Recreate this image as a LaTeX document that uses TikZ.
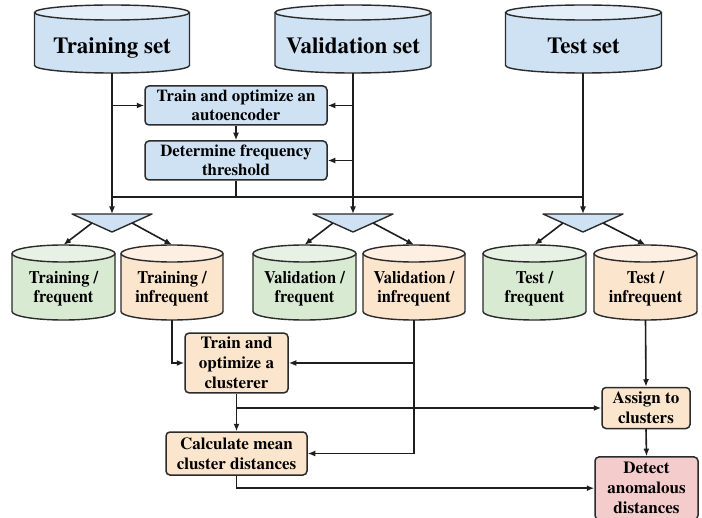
\documentclass[tikz,border=0pt]{standalone}
\usepackage[T1]{fontenc}
\renewcommand{\rmdefault}{ptm}
\usepackage{graphicx}
\usetikzlibrary{arrows.meta,calc}
\definecolor{blueB}{HTML}{CFE2F3}
\definecolor{blueBtop}{HTML}{E3EEF8}
\definecolor{greenB}{HTML}{D9EAD3}
\definecolor{greenBtop}{HTML}{E8F2E4}
\definecolor{orangeB}{HTML}{FCE5CD}
\definecolor{orangeBtop}{HTML}{FDEFE2}
\definecolor{redB}{HTML}{F4CCCC}
\definecolor{edge}{HTML}{2B2B2B}
\definecolor{wire}{HTML}{1E1E1E}
\newcommand\tstr{\rule{0pt}{0.92em}}
\newcommand\bstr{\rule[-0.24em]{0pt}{0.24em}}
\newcommand\cond[1]{\scalebox{0.93}[1]{#1}}
% #1 name, #2 cx, #3 ytop, #4 ybot, #5 half width, #6 ry, #7 colour, #8 text y, #9 text
\newcommand\dbcyl[9]{%
  \fill[#7] ({#2-#5},{#3+#6}) -- ({#2-#5},{#4-#6})
     arc[start angle=180,end angle=360,x radius=#5bp,y radius=#6bp]
     -- ({#2+#5},{#3+#6}) -- cycle;
  \draw[cylline] ({#2-#5},{#3+#6}) -- ({#2-#5},{#4-#6})
     arc[start angle=180,end angle=360,x radius=#5bp,y radius=#6bp]
     -- ({#2+#5},{#3+#6});
  \filldraw[cylline,fill=#7top] (#2,{#3+#6}) ellipse[x radius=#5bp,y radius=#6bp];
  \node[inner sep=0pt,minimum width={2*#5*1bp},minimum height={(#4-#3)*1bp}] (#1) at (#2,{(#3+#4)/2}) {};
  \node[cyltxt] (#1-t) at (#2,#8) {#9};
}
% #1 name, #2 cx
\newcommand\splittri[2]{%
  \coordinate (#1) at (#2,214);
  \coordinate (#1-l) at ({#2-40},214);
  \coordinate (#1-r) at ({#2+40},214);
  \coordinate (#1-b) at (#2,232);
  \coordinate (#1-lm) at ({#2-20},223);
  \coordinate (#1-rm) at ({#2+20},223);
  \filldraw[cylline,fill=blueB] (#1-l) -- (#1-r) -- (#1-b) -- cycle;
}
\tikzset{
  cylline/.style={draw=edge,line width=1.4bp,line join=round},
  cyltxt/.style={inner sep=0pt,align=center,font=\bfseries\fontsize{17.6bp}{19bp}\selectfont},
  toptxt/.style={inner sep=0pt,anchor=base,font=\bfseries\fontsize{23bp}{27bp}\selectfont},
  procbox/.style={draw=edge,line width=1.5bp,rounded corners=4bp,inner sep=0pt,align=center,
    font=\bfseries\fontsize{17bp}{20bp}\selectfont},
  upbox/.style={procbox,fill=blueB,font=\bfseries\fontsize{16.8bp}{19bp}\selectfont},
  wireline/.style={draw=wire,line width=1.6bp},
  arr/.style={wireline,-{Latex[length=7.5bp,width=6bp]}},
}
\begin{document}
\begin{tikzpicture}[x=1bp,y=-1bp]
\useasboundingbox (0,0) rectangle (702,518);
\fill[white] (0,0) rectangle (702,518);

% top data sets
\dbcyl{trs}{112}{5}{73}{77.5}{7.5}{blueB}{39}{}
\dbcyl{vas}{353}{5}{73}{78}{7.5}{blueB}{39}{}
\dbcyl{tes}{583.5}{5}{73}{78}{7.5}{blueB}{39}{}
\node[toptxt] (trs-l) at (112,53.3) {Training set};
\node[toptxt] (vas-l) at (353,53.3) {Validation set};
\node[toptxt] (tes-l) at (583.5,53.3) {Test set};

% autoencoder boxes
\node[upbox,minimum width=182bp,minimum height=39bp] (ae) at (236,105.5) {\tstr Train and optimize an\\autoencoder\bstr};
\node[upbox,minimum width=182bp,minimum height=39bp] (dt) at (236,160.5) {\tstr Determine frequency\\threshold\bstr};

% split triangles
\splittri{trtri}{112}
\splittri{vatri}{353}
\splittri{tetri}{583}

% split data sets
\dbcyl{trfq}{63.5}{245}{320}{51.5}{8.5}{greenB}{286.8}{\cond{\tstr Training /}\\\cond{frequent\bstr}}
\dbcyl{trin}{172}{245}{320}{51}{8.5}{orangeB}{286.8}{\cond{\tstr Training /}\\\cond{infrequent\bstr}}
\dbcyl{vafq}{304.5}{245}{320}{51.5}{8.5}{greenB}{286.8}{\cond{\tstr Validation /}\\\cond{frequent\bstr}}
\dbcyl{vain}{414}{245}{320}{51}{8.5}{orangeB}{286.8}{\cond{\tstr Validation /}\\\cond{infrequent\bstr}}
\dbcyl{tefq}{534.5}{245}{320}{51.5}{8.5}{greenB}{286.8}{\cond{\tstr Test /}\\\cond{frequent\bstr}}
\dbcyl{tein}{645.5}{245}{320}{51.5}{8.5}{orangeB}{286.8}{\cond{\tstr Test /}\\\cond{infrequent\bstr}}

% clustering boxes
\node[procbox,fill=orangeB,minimum width=103bp,minimum height=58bp] (cl) at (236.5,363) {\tstr Train and\\optimize a\\clusterer\bstr};
\node[procbox,fill=orangeB,minimum width=141bp,minimum height=43bp] (cm) at (236.5,453.5) {\tstr Calculate mean\\cluster distances\bstr};
\node[procbox,fill=orangeB,minimum width=88bp,minimum height=41bp] (as) at (646,408) {\tstr Assign to\\clusters\bstr};
\node[procbox,fill=redB,minimum width=103bp,minimum height=62.5bp] (dd) at (646.5,488.2) {\tstr Detect\\anomalous\\distances\bstr};

% top connectors
\coordinate (hl) at (112,197);
\coordinate (hr) at (583,197);
\draw[arr] (trs.south) -- (trtri);
\draw[arr] (vas.south) -- (vatri);
\draw[arr] (tes.south -| tetri) -- (tetri);
\draw[arr] (trs.south |- ae.west) -- (ae.west);
\draw[arr] (vas.south |- ae.east) -- (ae.east);
\draw[arr] (vas.south |- dt.east) -- (dt.east);
\draw[arr] (ae.south) -- (dt.north);
\draw[wireline] (dt.south) -- (dt.south |- hl);
\draw[wireline] (hl) -- (hr);

% triangle outputs
\draw[arr] (trtri-lm) -- (trfq.north);
\draw[arr] (trtri-rm) -- (trin.north);
\draw[arr] (vatri-lm) -- (vafq.north);
\draw[arr] (vatri-rm) -- (vain.north);
\draw[arr] (tetri-lm) -- (tefq.north);
\draw[arr] (tetri-rm) -- (tein.north);

% lower connectors
\draw[arr] (trin.south) |- (cl.west);
\draw[arr] (vain.south) |- (cl.east);
\draw[arr] (vain.south) |- (cm.east);
\draw[arr] (cl.south) -- (cm.north);
\draw[arr] (cl.south |- as.west) -- (as.west);
\draw[arr] (tein.south) -- (as.north);
\draw[arr] (as.south) -- (dd.north);
\draw[arr] (cm.south) |- (dd.west);
\end{tikzpicture}
\end{document}
